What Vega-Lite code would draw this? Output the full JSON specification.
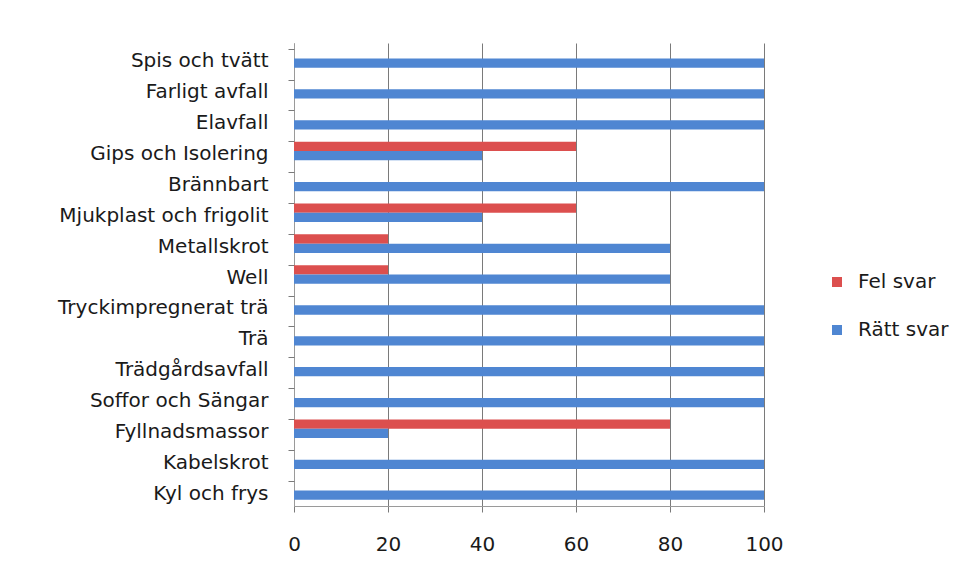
{
  "$schema": "https://vega.github.io/schema/vega-lite/v6.json",
  "width": 470,
  "height": 463,
  "autosize": {"type": "none"},
  "padding": {"left": 294, "top": 43, "right": 194, "bottom": 79},
  "background": "white",
  "data": {
    "values": [
      {"kategori": "Spis och tvätt", "serie": "Fel svar", "varde": 0},
      {"kategori": "Spis och tvätt", "serie": "Rätt svar", "varde": 100},
      {"kategori": "Farligt avfall", "serie": "Fel svar", "varde": 0},
      {"kategori": "Farligt avfall", "serie": "Rätt svar", "varde": 100},
      {"kategori": "Elavfall", "serie": "Fel svar", "varde": 0},
      {"kategori": "Elavfall", "serie": "Rätt svar", "varde": 100},
      {"kategori": "Gips och Isolering", "serie": "Fel svar", "varde": 60},
      {"kategori": "Gips och Isolering", "serie": "Rätt svar", "varde": 40},
      {"kategori": "Brännbart", "serie": "Fel svar", "varde": 0},
      {"kategori": "Brännbart", "serie": "Rätt svar", "varde": 100},
      {"kategori": "Mjukplast och frigolit", "serie": "Fel svar", "varde": 60},
      {"kategori": "Mjukplast och frigolit", "serie": "Rätt svar", "varde": 40},
      {"kategori": "Metallskrot", "serie": "Fel svar", "varde": 20},
      {"kategori": "Metallskrot", "serie": "Rätt svar", "varde": 80},
      {"kategori": "Well", "serie": "Fel svar", "varde": 20},
      {"kategori": "Well", "serie": "Rätt svar", "varde": 80},
      {"kategori": "Tryckimpregnerat trä", "serie": "Fel svar", "varde": 0},
      {"kategori": "Tryckimpregnerat trä", "serie": "Rätt svar", "varde": 100},
      {"kategori": "Trä", "serie": "Fel svar", "varde": 0},
      {"kategori": "Trä", "serie": "Rätt svar", "varde": 100},
      {"kategori": "Trädgårdsavfall", "serie": "Fel svar", "varde": 0},
      {"kategori": "Trädgårdsavfall", "serie": "Rätt svar", "varde": 100},
      {"kategori": "Soffor och Sängar", "serie": "Fel svar", "varde": 0},
      {"kategori": "Soffor och Sängar", "serie": "Rätt svar", "varde": 100},
      {"kategori": "Fyllnadsmassor", "serie": "Fel svar", "varde": 80},
      {"kategori": "Fyllnadsmassor", "serie": "Rätt svar", "varde": 20},
      {"kategori": "Kabelskrot", "serie": "Fel svar", "varde": 0},
      {"kategori": "Kabelskrot", "serie": "Rätt svar", "varde": 100},
      {"kategori": "Kyl och frys", "serie": "Fel svar", "varde": 0},
      {"kategori": "Kyl och frys", "serie": "Rätt svar", "varde": 100}
    ]
  },
  "layer": [
    {
      "mark": {"type": "bar"},
      "encoding": {
        "y": {
          "field": "kategori",
          "type": "nominal",
          "sort": ["Spis och tvätt", "Farligt avfall", "Elavfall", "Gips och Isolering", "Brännbart", "Mjukplast och frigolit", "Metallskrot", "Well", "Tryckimpregnerat trä", "Trä", "Trädgårdsavfall", "Soffor och Sängar", "Fyllnadsmassor", "Kabelskrot", "Kyl och frys"],
          "scale": {"paddingInner": 0.4, "paddingOuter": 0.2},
          "axis": {
            "orient": "left",
            "title": null,
            "ticks": false,
            "labelPadding": 26,
            "labelFont": "DejaVu Sans",
            "labelFontSize": 20,
            "labelColor": "#1a1a1a",
            "labelOffset": 3,
            "labelLimit": 300,
            "domainColor": "#9a9a9a",
            "domainWidth": 1
          }
        },
        "yOffset": {"field": "serie", "type": "nominal", "sort": ["Fel svar", "Rätt svar"]},
        "x": {
          "field": "varde",
          "type": "quantitative",
          "scale": {"domain": [0, 100]},
          "axis": {
            "title": null,
            "values": [0, 20, 40, 60, 80, 100],
            "format": "d",
            "labelFlush": false,
            "grid": true,
            "gridColor": "#7a7a7a",
            "gridWidth": 1,
            "tickColor": "#7a7a7a",
            "tickSize": 6,
            "domainColor": "#9a9a9a",
            "labelPadding": 22,
            "labelFont": "DejaVu Sans",
            "labelFontSize": 20,
            "labelColor": "#1a1a1a"
          }
        },
        "color": {
          "field": "serie",
          "type": "nominal",
          "scale": {"domain": ["Fel svar", "Rätt svar"], "range": ["#DC4F4E", "#4F86D2"]},
          "legend": {
            "orient": "none",
            "legendX": 533,
            "legendY": 229,
            "title": null,
            "symbolType": "square",
            "symbolSize": 100,
            "symbolStrokeWidth": 0,
            "labelOffset": 11,
            "labelFont": "DejaVu Sans",
            "labelFontSize": 20,
            "labelColor": "#1a1a1a",
            "rowPadding": 28
          }
        }
      }
    },
    {
      "mark": {"type": "bar", "opacity": 0},
      "encoding": {
        "y": {
          "field": "kategori",
          "type": "nominal",
          "sort": ["Spis och tvätt", "Farligt avfall", "Elavfall", "Gips och Isolering", "Brännbart", "Mjukplast och frigolit", "Metallskrot", "Well", "Tryckimpregnerat trä", "Trä", "Trädgårdsavfall", "Soffor och Sängar", "Fyllnadsmassor", "Kabelskrot", "Kyl och frys"],
          "axis": {
            "orient": "left",
            "title": null,
            "labels": false,
            "domain": false,
            "ticks": true,
            "bandPosition": 0,
            "tickSize": 6,
            "tickColor": "#7a7a7a"
          }
        },
        "x": {"field": "varde", "type": "quantitative"}
      }
    }
  ],
  "resolve": {"axis": {"y": "independent"}},
  "config": {"view": {"stroke": null}}
}
